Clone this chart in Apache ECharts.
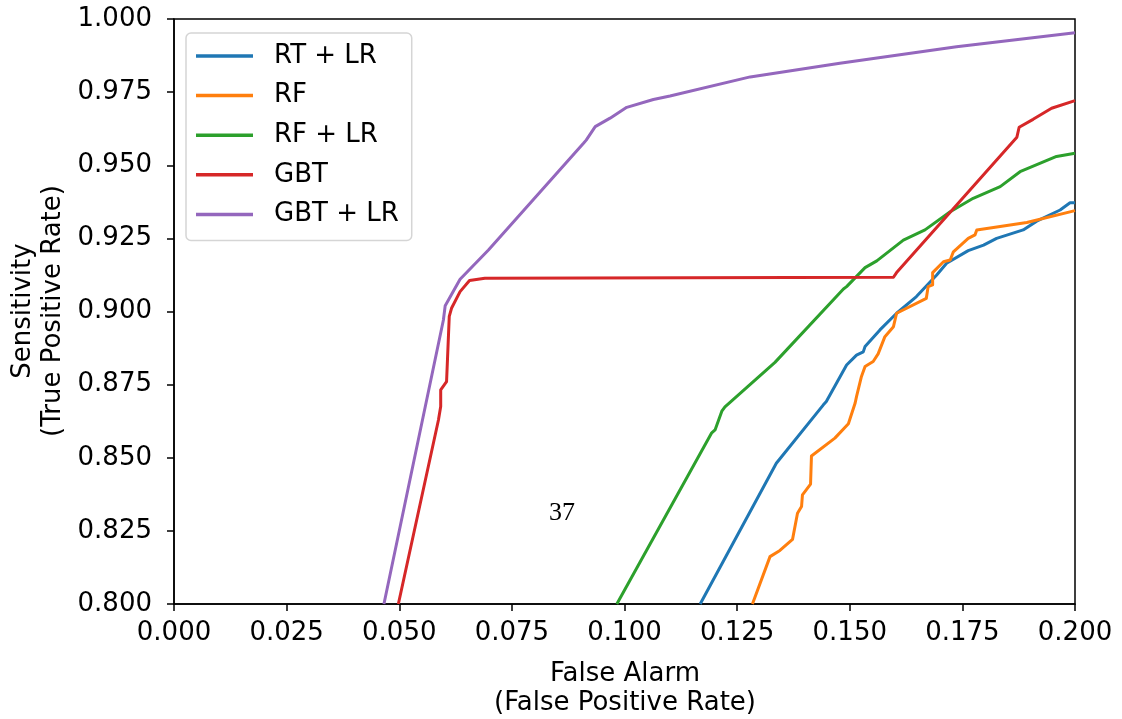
<!DOCTYPE html>
<html>
<head>
<meta charset="utf-8">
<script src="https://cdn.jsdelivr.net/npm/echarts@6/dist/echarts.min.js"></script>
<style>html,body{margin:0;padding:0;background:#fff}#c{width:1122px;height:719px}</style>
</head>
<body>
<div id="c"></div>
<script>
const seriesNames = ['RT + LR', 'RF', 'RF + LR', 'GBT', 'GBT + LR'];
const seriesColors = ['#1f77b4', '#ff7f0e', '#2ca02c', '#d62728', '#9467bd'];

const rtlrX = [0.1168, 0.1337, 0.1441, 0.1448, 0.1493, 0.1515, 0.1530, 0.1534, 0.1567, 0.1604, 0.1648, 0.1693, 0.1715, 0.1763, 0.1797, 0.1826, 0.1885, 0.1915, 0.1967, 0.1989, 0.2000];
const rtlrY = [0.800, 0.8481, 0.8680, 0.8692, 0.8817, 0.8851, 0.8862, 0.8880, 0.8937, 0.8994, 0.9051, 0.9125, 0.9165, 0.9208, 0.9227, 0.9250, 0.9279, 0.9309, 0.9347, 0.9372, 0.9372];

const rfX = [0.1284, 0.1323, 0.1345, 0.1373, 0.1384, 0.1393, 0.1395, 0.1413, 0.1415, 0.1467, 0.1497, 0.1512, 0.1515, 0.1526, 0.1534, 0.1552, 0.1563, 0.1578, 0.1597, 0.1604, 0.1670, 0.1674, 0.1684, 0.1684, 0.1708, 0.1723, 0.1730, 0.1763, 0.1778, 0.1782, 0.1893, 0.2000];
const rfY = [0.800, 0.8162, 0.8183, 0.8221, 0.8310, 0.8333, 0.8373, 0.8410, 0.8506, 0.8567, 0.8616, 0.8687, 0.8709, 0.8778, 0.8812, 0.8829, 0.8855, 0.8914, 0.8948, 0.8994, 0.9045, 0.9085, 0.9091, 0.9133, 0.9170, 0.9176, 0.9204, 0.9250, 0.9262, 0.9279, 0.9304, 0.9345];

const rflrX = [0.0983, 0.1193, 0.1201, 0.1216, 0.1223, 0.1334, 0.1486, 0.1493, 0.1534, 0.1560, 0.1619, 0.1667, 0.1723, 0.1774, 0.1834, 0.1878, 0.1959, 0.2000];
const rflrY = [0.800, 0.8584, 0.8595, 0.8659, 0.8674, 0.8826, 0.9077, 0.9085, 0.9150, 0.9173, 0.9244, 0.9279, 0.9341, 0.9387, 0.9427, 0.9478, 0.9530, 0.9541];

const gbtX = [0.0498, 0.0587, 0.0592, 0.0592, 0.0605, 0.0609, 0.0611, 0.0616, 0.0635, 0.0656, 0.0690, 0.1597, 0.1604, 0.1871, 0.1876, 0.1907, 0.1948, 0.2000];
const gbtY = [0.800, 0.8629, 0.8675, 0.8732, 0.8760, 0.8766, 0.8983, 0.9011, 0.9068, 0.9106, 0.9114, 0.9117, 0.9133, 0.9596, 0.9630, 0.9657, 0.9695, 0.9721];

const gbtlrX = [0.0466, 0.0598, 0.0602, 0.0635, 0.0698, 0.0909, 0.0915, 0.0935, 0.0968, 0.1005, 0.1064, 0.1101, 0.1279, 0.1478, 0.1737, 0.2000];
const gbtlrY = [0.800, 0.8971, 0.9020, 0.9110, 0.9210, 0.9575, 0.9586, 0.9632, 0.9661, 0.9698, 0.9725, 0.9737, 0.9802, 0.9849, 0.9905, 0.9953];

const xTicks = [0.000, 0.025, 0.050, 0.075, 0.100, 0.125, 0.150, 0.175, 0.200];
const yTicks = [0.800, 0.825, 0.850, 0.875, 0.900, 0.925, 0.950, 0.975, 1.000];

const xTitle = 'False Alarm\n(False Positive Rate)';
const yTitle = 'Sensitivity\n(True Positive Rate)';
const pageNumber = '37';

const xs = [rtlrX, rfX, rflrX, gbtX, gbtlrX];
const ys = [rtlrY, rfY, rflrY, gbtY, gbtlrY];

const FONT = 'DejaVu Sans';
const chart = echarts.init(document.getElementById('c'), null, {renderer: 'canvas'});

const series = seriesNames.map((n, i) => ({
  name: n,
  type: 'line',
  data: xs[i].map((x, j) => [x, ys[i][j]]),
  showSymbol: false,
  symbol: 'none',
  clip: true,
  lineStyle: {color: seriesColors[i], width: 3, join: 'round', cap: 'butt'},
  itemStyle: {color: seriesColors[i]},
  emphasis: {disabled: true},
  animation: false
}));

chart.setOption({
  animation: false,
  backgroundColor: '#fff',
  grid: {left: 174, right: 47, top: 19, bottom: 115, show: true, borderColor: '#000', borderWidth: 1.5, backgroundColor: 'transparent'},
  xAxis: {
    type: 'value', min: xTicks[0], max: xTicks[xTicks.length - 1], interval: 0.025,
    axisLine: {show: true, onZero: false, lineStyle: {color: '#000', width: 1.5}},
    axisTick: {show: true, inside: false, length: 7, lineStyle: {color: '#000', width: 1.5}},
    axisLabel: {color: '#000', fontFamily: FONT, fontSize: 26, margin: 16, formatter: v => v.toFixed(3)},
    splitLine: {show: false}
  },
  yAxis: {
    type: 'value', min: yTicks[0], max: yTicks[yTicks.length - 1], interval: 0.025,
    axisLine: {show: true, onZero: false, lineStyle: {color: '#000', width: 1.5}},
    axisTick: {show: true, inside: false, length: 7, lineStyle: {color: '#000', width: 1.5}},
    axisLabel: {color: '#000', fontFamily: FONT, fontSize: 26, margin: 22, padding: [4, 0, 0, 0], formatter: v => v.toFixed(3)},
    splitLine: {show: false}
  },
  legend: {
    data: seriesNames,
    orient: 'vertical',
    left: 186, top: 33,
    padding: [10, 13, 13, 10],
    itemGap: 13.6,
    itemWidth: 57, itemHeight: 3.5,
    icon: 'rect',
    borderColor: '#d5d5d5', borderWidth: 1.5, borderRadius: 5,
    backgroundColor: 'rgba(255,255,255,0.8)',
    textStyle: {color: '#000', fontFamily: FONT, fontSize: 26, lineHeight: 26, padding: [0, 0, 0, 16]},
    selectedMode: false
  },
  graphic: [
    {type: 'text', x: 625, y: 689, style: {text: xTitle, fill: '#000', font: '26px "DejaVu Sans"', align: 'center', verticalAlign: 'middle', lineHeight: 29}},
    {type: 'text', x: 38, y: 311, rotation: Math.PI / 2, style: {text: yTitle, fill: '#000', font: '26px "DejaVu Sans"', align: 'center', verticalAlign: 'middle', lineHeight: 30}},
    {type: 'text', x: 562, y: 513, style: {text: pageNumber, fill: '#000', font: '26px "Liberation Serif"', align: 'center', verticalAlign: 'middle'}}
  ],
  series: series
});
</script>
</body>
</html>
